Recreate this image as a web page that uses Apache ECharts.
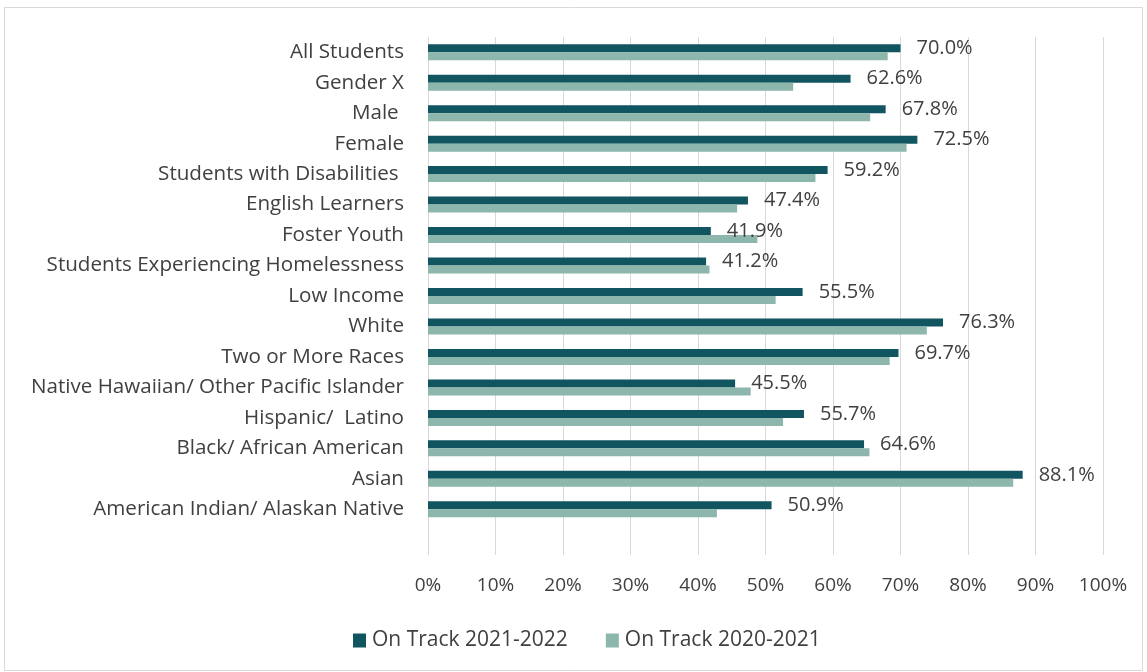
<!DOCTYPE html>
<html>
<head>
<meta charset="utf-8">
<script src="https://cdn.jsdelivr.net/npm/echarts@6/dist/echarts.min.js"></script>
<style>
html,body{margin:0;padding:0;background:#fff;}
#chart{width:1147px;height:672px;}
</style>
</head>
<body>
<div id="chart"></div>
<script>
const categories = ['All Students','Gender X','Male ','Female','Students with Disabilities ','English Learners','Foster Youth','Students Experiencing Homelessness','Low Income','White','Two or More Races','Native Hawaiian/ Other Pacific Islander','Hispanic/  Latino','Black/ African American','Asian','American Indian/ Alaskan Native',''];
const onTrack2122 = [70.0,62.6,67.8,72.5,59.2,47.4,41.9,41.2,55.5,76.3,69.7,45.5,55.7,64.6,88.1,50.9,null];
const onTrack2021 = [68.1,54.1,65.5,70.9,57.4,45.8,48.8,41.7,51.5,73.9,68.4,47.8,52.6,65.4,86.7,42.8,null];
const xTicks = [0,10,20,30,40,50,60,70,80,90,100];
const seriesNames = ['On Track 2021-2022','On Track 2020-2021'];

const FONT = 'Open Sans';
const TXT = '#404040';
const chart = echarts.init(document.getElementById('chart'), null, {renderer:'canvas'});
chart.setOption({
  animation:false,
  textStyle:{fontFamily:FONT},
  graphic:[{type:'rect',shape:{x:4.5,y:7.5,width:1138,height:663},style:{fill:'none',stroke:'#d9d9d9',lineWidth:1},silent:true,z:-1}],
  grid:{left:428,right:44,top:37,bottom:117,containLabel:false},
  legend:{
    left:353,top:630,itemWidth:13,itemHeight:14,itemGap:38,padding:0,
    icon:'rect',
    textStyle:{fontFamily:FONT,fontSize:21,color:TXT,padding:[0,0,0,1]},
    data:seriesNames
  },
  xAxis:{
    type:'value',min:xTicks[0],max:xTicks[xTicks.length-1],interval:10,
    axisLine:{show:false},axisTick:{show:false},
    splitLine:{show:true,lineStyle:{color:'#d9d9d9',width:1}},
    axisLabel:{formatter:v=>v+'%',fontFamily:FONT,fontSize:19,color:TXT,margin:21}
  },
  yAxis:{
    type:'category',data:categories,inverse:true,
    axisLine:{show:false},axisTick:{show:false},
    axisLabel:{fontFamily:FONT,fontSize:20.6,color:TXT,margin:24,interval:0}
  },
  series:[
    {name:seriesNames[0],type:'bar',data:onTrack2122,barWidth:8,barGap:'0%',
     itemStyle:{color:'#10555f'},
     label:{show:true,position:'right',distance:16,formatter:p=>p.value==null?'':p.value.toFixed(1)+'%',fontFamily:FONT,fontSize:20,color:TXT}},
    {name:seriesNames[1],type:'bar',data:onTrack2021,barWidth:8,barGap:'0%',
     itemStyle:{color:'#8db6ac'}}
  ]
});
</script>
</body>
</html>
